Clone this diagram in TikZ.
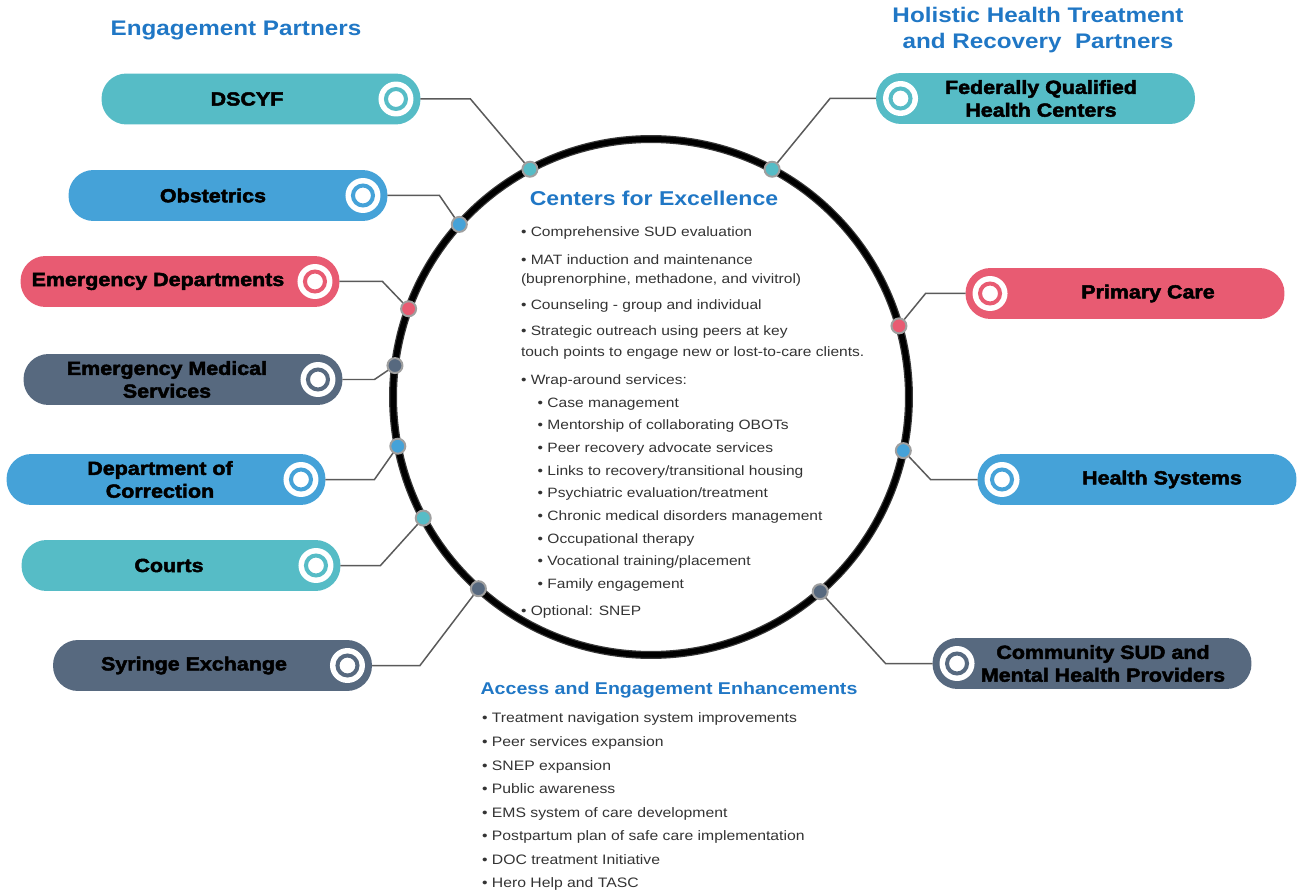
\documentclass[tikz,border=0pt]{standalone}
\usepackage{fontspec}
\setmainfont{Liberation Sans}[FakeStretch=1.15]
\newfontfamily\pillfont{Liberation Sans}[FakeStretch=1.13, UprightFont={* Bold}, FakeBold=2.5]
\usetikzlibrary{positioning}

\definecolor{pteal}{HTML}{56BCC6}
\definecolor{pblue}{HTML}{45A2D8}
\definecolor{pred}{HTML}{E85B72}
\definecolor{pslate}{HTML}{57697F}
\definecolor{hdblue}{HTML}{2077C5}
\definecolor{bodygray}{HTML}{333333}
\definecolor{linkgray}{HTML}{5A5A5A}

\begin{document}
\begin{tikzpicture}[
    x=0.02cm, y=-0.02cm,
    pill/.style={rounded corners=0.5cm, minimum width=6.38cm, minimum height=1.02cm, inner sep=0pt, fill=#1},
    pilltext/.style={font=\pillfont\fontsize{10.8}{13}\selectfont, align=center, inner sep=0pt},
    ring/.style={circle, fill=white, minimum size=0.7cm, inner sep=0pt,
        path picture={\draw[#1, line width=0.08cm] (path picture bounding box.center) circle (0.2cm);}},
    dot/.style={circle, fill=#1, draw=gray!75, line width=0.04cm, minimum size=0.3cm, inner sep=0pt},
    link/.style={linkgray, line width=0.03cm},
    heading/.style={font=\bfseries\fontsize{12}{14.7}\selectfont, text=hdblue, align=center, inner sep=0pt},
    every node/.style={outer sep=0pt}]

  \useasboundingbox (0,0) rectangle (1299,895);

  % headings
  \node[heading] (eng-title) at (236,30) {Engagement Partners};
  \node[heading] (hol-title) at (1038,30) {Holistic Health Treatment\\and Recovery\ \ Partners};

  % hub
  \node[circle, draw=gray!45!black, line width=0.16cm, minimum size=10.32cm] (hub) at (651,397) {};
  \draw[line width=0.11cm] (hub.center) circle (5.16cm);

  \node[font=\bfseries\fontsize{11.4}{14}\selectfont, text=hdblue, inner sep=0pt] (cfe-title) at (654,198) {Centers for Excellence};
  \node[font=\fontsize{7.7}{12.9}\selectfont, text=bodygray, align=left, anchor=north west, inner sep=0pt] (cfe-list) at (521,227) {%
    \textbullet\ Comprehensive SUD evaluation\\[3pt]
    \textbullet\ MAT induction and maintenance\\[-2pt]
    (buprenorphine, methadone, and vivitrol)\\[1.8pt]
    \textbullet\ Counseling - group and individual\\[1.8pt]
    \textbullet\ Strategic outreach using peers at key\\[-1pt]
    touch points to engage new or lost-to-care clients.\\[3pt]
    \textbullet\ Wrap-around services:\\
    \hspace*{9.5pt}\textbullet\ Case management\\
    \hspace*{9.5pt}\textbullet\ Mentorship of collaborating OBOTs\\
    \hspace*{9.5pt}\textbullet\ Peer recovery advocate services\\
    \hspace*{9.5pt}\textbullet\ Links to recovery/transitional housing\\
    \hspace*{9.5pt}\textbullet\ Psychiatric evaluation/treatment\\
    \hspace*{9.5pt}\textbullet\ Chronic medical disorders management\\
    \hspace*{9.5pt}\textbullet\ Occupational therapy\\
    \hspace*{9.5pt}\textbullet\ Vocational training/placement\\
    \hspace*{9.5pt}\textbullet\ Family engagement\\[2.4pt]
    \textbullet\ Optional: SNEP};

  % access list
  \node[font=\bfseries\fontsize{9.7}{12}\selectfont, text=hdblue, inner sep=0pt] (acc-title) at (669,690) {Access and Engagement Enhancements};
  \node[font=\fontsize{7.8}{13.4}\selectfont, text=bodygray, align=left, anchor=north west, inner sep=0pt] (acc-list) at (482,713) {%
    \textbullet\ Treatment navigation system improvements\\
    \textbullet\ Peer services expansion\\
    \textbullet\ SNEP expansion\\
    \textbullet\ Public awareness\\
    \textbullet\ EMS system of care development\\
    \textbullet\ Postpartum plan of safe care implementation\\
    \textbullet\ DOC treatment Initiative\\
    \textbullet\ Hero Help and TASC};

  % engagement partners (left)
  \node[pill=pteal] (dscyf) at (261,99) {};
  \node[pill=pblue] (obst) at (228,195.5) {};
  \node[pill=pred] (ed) at (180,281.5) {};
  \node[pill=pslate] (ems) at (183,379.5) {};
  \node[pill=pblue] (doc) at (166,479.5) {};
  \node[pill=pteal] (courts) at (181,565.5) {};
  \node[pill=pslate] (syr) at (212.5,665.5) {};

  \node[pilltext] (dscyf-t) at (247,99) {DSCYF};
  \node[pilltext] (obst-t) at (213,195.5) {Obstetrics};
  \node[pilltext] (ed-t) at (158,281.5) {Emergency Departments};
  \node[pilltext] (ems-t) at (167,379.5) {Emergency Medical\\Services};
  \node[pilltext] (doc-t) at (160,479.5) {Department of\\Correction};
  \node[pilltext] (courts-t) at (169,565.5) {Courts};
  \node[pilltext] (syr-t) at (194,665.5) {Syringe Exchange};

  \node[ring=pteal, left=0.14cm of dscyf.east] (dscyf-r) {};
  \node[ring=pblue, left=0.14cm of obst.east] (obst-r) {};
  \node[ring=pred, left=0.14cm of ed.east] (ed-r) {};
  \node[ring=pslate, left=0.14cm of ems.east] (ems-r) {};
  \node[ring=pblue, left=0.14cm of doc.east] (doc-r) {};
  \node[ring=pteal, left=0.14cm of courts.east] (courts-r) {};
  \node[ring=pslate, left=0.14cm of syr.east] (syr-r) {};

  % treatment and recovery partners (right)
  \node[pill=pteal] (fqhc) at (1035.5,98.5) {};
  \node[pill=pred] (pc) at (1125,293.5) {};
  \node[pill=pblue] (hs) at (1137,479.5) {};
  \node[pill=pslate] (csud) at (1092,663.5) {};

  \node[pilltext] (fqhc-t) at (1041,98.5) {Federally Qualified\\Health Centers};
  \node[pilltext] (pc-t) at (1148,293.5) {Primary Care};
  \node[pilltext] (hs-t) at (1162,479.5) {Health Systems};
  \node[pilltext] (csud-t) at (1103,663.5) {Community SUD and\\Mental Health Providers};

  \node[ring=pteal, right=0.14cm of fqhc.west] (fqhc-r) {};
  \node[ring=pred, right=0.14cm of pc.west] (pc-r) {};
  \node[ring=pblue, right=0.14cm of hs.west] (hs-r) {};
  \node[ring=pslate, right=0.14cm of csud.west] (csud-r) {};

  % connectors
  \draw[link] (dscyf.east) -- ++(50,0) -- (hub.118.6);
  \draw[link] (obst.east) -- ++(52,0) -- (hub.138.3);
  \draw[link] (ed.east) -- ++(43,0) -- (hub.160.4);
  \draw[link] (ems.east) -- ++(32,0) -- (hub.173.7);
  \draw[link] (doc.east) -- ++(49,0) -- (hub.191.6);
  \draw[link] (courts.east) -- ++(40,0) -- (hub.208.8);
  \draw[link] (syr.east) -- ++(48,0) -- (hub.228.9);
  \draw[link] (fqhc.west) -- ++(-46,0) -- (hub.62.7);
  \draw[link] (pc.west) -- ++(-40,0) -- (hub.16.6);
  \draw[link] (hs.west) -- ++(-47,0) -- (hub.348.3);
  \draw[link] (csud.west) -- ++(-47,0) -- (hub.311.7);

  % dots on the hub
  \node[dot=pteal] (dscyf-d) at (hub.118.6) {};
  \node[dot=pblue] (obst-d) at (hub.138.3) {};
  \node[dot=pred] (ed-d) at (hub.160.4) {};
  \node[dot=pslate] (ems-d) at (hub.173.7) {};
  \node[dot=pblue] (doc-d) at (hub.191.6) {};
  \node[dot=pteal] (courts-d) at (hub.208.8) {};
  \node[dot=pslate] (syr-d) at (hub.228.9) {};
  \node[dot=pteal] (fqhc-d) at (hub.62.7) {};
  \node[dot=pred] (pc-d) at (hub.16.6) {};
  \node[dot=pblue] (hs-d) at (hub.348.3) {};
  \node[dot=pslate] (csud-d) at (hub.311.7) {};
\end{tikzpicture}
\end{document}
